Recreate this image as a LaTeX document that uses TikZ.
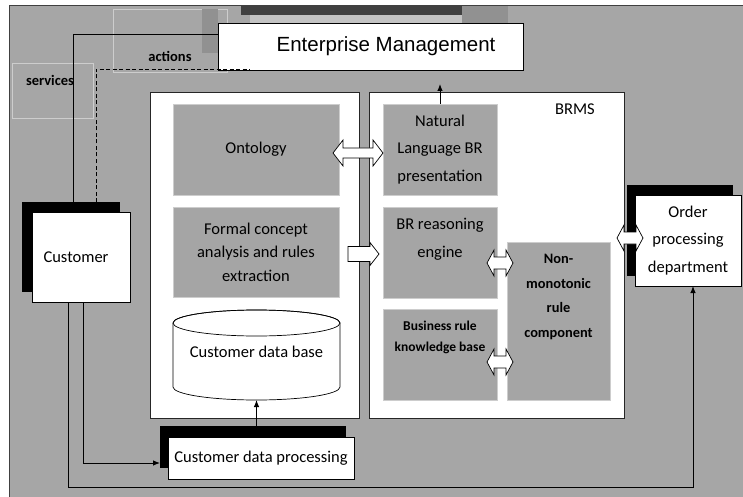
\documentclass[tikz,border=0pt]{standalone}
\usepackage{fontspec}
\setmainfont{Carlito}
\newfontfamily\arialf{Liberation Sans}
\usetikzlibrary{arrows.meta,calc}
\definecolor{bggray}{RGB}{166,166,166}
\definecolor{boxgray}{RGB}{165,165,165}
\definecolor{lightedge}{RGB}{205,205,205}
\definecolor{darkbar}{RGB}{64,64,64}
\definecolor{midgray}{RGB}{145,145,145}
\definecolor{lightstrip}{RGB}{195,195,195}
\newcommand\DblArr[6]{\draw[blockarrow] (#1-#3,#2) -- (#1-#3+#4,#2-#6) -- (#1-#3+#4,#2-#5) -- (#1+#3-#4,#2-#5) -- (#1+#3-#4,#2-#6) -- (#1+#3,#2) -- (#1+#3-#4,#2+#6) -- (#1+#3-#4,#2+#5) -- (#1-#3+#4,#2+#5) -- (#1-#3+#4,#2+#6) -- cycle;}
\begin{document}
\begin{tikzpicture}[x=1pt,y=-1pt,
  every node/.style={inner sep=0pt, outer sep=0pt},
  bg/.style={fill=bggray, draw=black!75, line width=0.8pt},
  panel/.style={fill=white, draw=black!85, line width=0.7pt},
  graybox/.style={fill=boxgray, draw=lightedge, line width=0.8pt},
  lightbox/.style={fill=bggray, draw=lightedge, line width=0.8pt},
  whitebox/.style={fill=white, draw=black, line width=0.7pt},
  shadowbox/.style={fill=black},
  lbl/.style={font=\fontsize{16.5}{27.5}\selectfont, align=center},
  boldlbl/.style={font=\bfseries\fontsize{14.5}{24.5}\selectfont, align=center},
  conn/.style={line width=0.9pt, draw=black},
  tip/.style={-{Latex[length=7pt,width=5.5pt]}},
  blockarrow/.style={fill=white, draw=black, line width=0.7pt}
]
\useasboundingbox (0,0) rectangle (743,497);
\clip (0,0) rectangle (743,497);
\fill[white] (0,0) rectangle (743,497);
\draw[bg] (9,5) rectangle (760,510);

% top-left label boxes
\node[lightbox, minimum width=114pt, minimum height=63pt] (actbox) at (170,40.5) {};
\node[lightbox, minimum width=81pt, minimum height=55pt] (srvbox) at (52.5,90.5) {};
\node[boldlbl, font=\bfseries\fontsize{14.5}{17}\selectfont] (actions) at (170,56) {actions};
\node[boldlbl, font=\bfseries\fontsize{14.5}{17}\selectfont] (services) at (50,80) {services};
\fill[midgray] (202,9) rectangle (218,53);

% Enterprise management shadow pieces
\fill[darkbar] (241,5) rectangle (462,15);
\fill[lightstrip] (250,15) rectangle (471,23);
\fill[midgray] (462,6) rectangle (508,23);
\node[whitebox, minimum width=305pt, minimum height=47pt, font=\arialf\fontsize{20.5}{24}\selectfont] (ent) at (370.5,46.5) {\hspace*{31pt}Enterprise Management};

% Customer
\node[shadowbox, minimum width=98pt, minimum height=90pt] (cs) at (71,247) {};
\node[whitebox, minimum width=98pt, minimum height=90pt, lbl] (cust) at (81,257) {\hspace*{-10pt}Customer};

% connectors from customer to enterprise
\draw[conn] (cs.north west) ++(51,0) |- ($(ent.north west)!0.245!(ent.south west)$);
\draw[conn, dashed, dash pattern=on 4pt off 2.5pt] (cs.north west) ++(74,0) |- ($(ent.south west)+(32,-1)$);

% panels
\node[panel, minimum width=209pt, minimum height=326pt] (lp) at (254.5,255) {};
\node[panel, minimum width=255pt, minimum height=326pt] (rp) at (496.5,255) {};

% left panel boxes
\node[graybox, minimum width=166pt, minimum height=91pt, lbl] (onto) at (256,149.5) {Ontology};
\node[graybox, minimum width=166pt, minimum height=90pt, lbl, font=\fontsize{16.5}{23.5}\selectfont] (fca) at (256,252) {Formal concept\\analysis and rules\\extraction};

% cylinder
\filldraw[fill=white, draw=black, line width=0.7pt] (173,323) -- (173,387) arc[start angle=180, end angle=360, x radius=83.5pt, y radius=13pt] -- (340,323) arc[start angle=0, end angle=180, x radius=83.5pt, y radius=13pt] -- cycle;
\draw[line width=0.7pt] (256.5,323) ellipse[x radius=83.5pt, y radius=13pt];
\node[minimum width=167pt, minimum height=90pt, lbl] (cdb) at (256.5,355) {};
\node[lbl] (cdbt) at (256.5,352) {Customer data base};

% right panel boxes
\node[graybox, minimum width=114pt, minimum height=91pt, lbl] (nl) at (440,149.5) {Natural\\Language BR\\presentation};
\node[graybox, minimum width=114pt, minimum height=91pt] (br) at (440,252.5) {};
\node[lbl, font=\fontsize{16.5}{28}\selectfont] (brt) at (440,239) {BR reasoning\\engine};
\node[graybox, minimum width=114pt, minimum height=91pt] (kb) at (440,354.5) {};
\node[boldlbl, font=\bfseries\fontsize{13.5}{21}\selectfont] (kbt) at (440,337) {Business rule\\knowledge base};
\node[graybox, minimum width=103pt, minimum height=158pt] (nm) at (558.5,321) {};
\node[boldlbl, font=\bfseries\fontsize{14.4}{24.5}\selectfont] (nmt) at (558.5,297) {Non-\\monotonic\\rule\\component};
\node[lbl] (brms) at (575,109) {BRMS};

% Order processing department
\node[shadowbox, minimum width=106pt, minimum height=91pt] (os) at (680,230.5) {};
\node[whitebox, minimum width=106pt, minimum height=91pt, lbl] (ord) at (688,240.5) {Order\\processing\\department};

% Customer data processing
\node[shadowbox, minimum width=186pt, minimum height=42pt] (cdps) at (253,447) {};
\node[whitebox, minimum width=186pt, minimum height=42pt, lbl] (cdp) at (261,458) {Customer data processing};

% block arrows
\DblArr{358}{153}{25}{10}{5}{13}
\draw[blockarrow] (348,246.5) -- (370,246.5) -- (370,242.5) -- (379,254) -- (370,265.5) -- (370,261.5) -- (348,261.5) -- cycle;
\DblArr{500}{263}{13}{7}{6}{13}
\DblArr{500}{362}{13}{7}{6}{13}
\DblArr{630}{238}{13}{7}{6}{13}

% connectors
\draw[conn, tip] (nl.north) -- ++(0,-20);
\draw[conn, tip] (cdps.north -| cdb.south) -- (cdb.south);
\draw[conn, tip] (cust.south west) ++(36,0) -- ++(0,185) -| ($(ord.south west)+(58,0)$);
\draw[conn, tip] (cust.south west) ++(51,0) |- ($(cdps.south west)+(0,-5)$);
\end{tikzpicture}
\end{document}
